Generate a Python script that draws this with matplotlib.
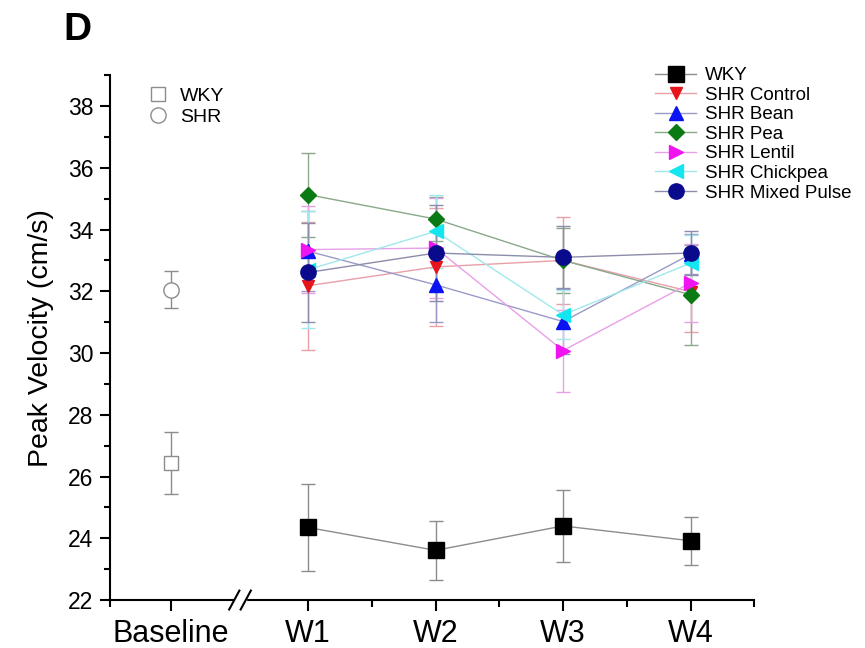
import matplotlib.pyplot as plt
import matplotlib.transforms as mtransforms
from matplotlib.lines import Line2D

plt.rcParams['font.family'] = ['Liberation Sans', 'DejaVu Sans']

# data
weeks = ['W1', 'W2', 'W3', 'W4']
week_pos = [1, 2, 3, 4]
baseline_pos = -0.076

baseline_wky = 26.45
baseline_wky_err = 1.0
baseline_shr = 32.05
baseline_shr_err = 0.6

series_names = ['WKY', 'SHR Control', 'SHR Bean', 'SHR Pea',
                'SHR Lentil', 'SHR Chickpea', 'SHR Mixed Pulse']
wky = [24.35, 23.61, 24.40, 23.92]
wky_err = [1.42, 0.95, 1.18, 0.78]
shr_control = [32.18, 32.79, 33.00, 31.99]
shr_control_err = [2.08, 1.90, 1.40, 1.30]
shr_bean = [33.30, 32.21, 31.02, 33.20]
shr_bean_err = [1.30, 1.20, 1.05, 0.65]
shr_pea = [35.13, 34.34, 33.00, 31.89]
shr_pea_err = [1.36, 0.70, 1.05, 1.62]
shr_lentil = [33.35, 33.40, 30.08, 32.27]
shr_lentil_err = [1.40, 1.62, 1.33, 1.25]
shr_chickpea = [32.70, 33.94, 31.24, 32.91]
shr_chickpea_err = [1.90, 1.19, 0.80, 0.92]
shr_mixed = [32.61, 33.24, 33.10, 33.24]
shr_mixed_err = [1.60, 1.55, 1.00, 0.70]

values = [wky, shr_control, shr_bean, shr_pea, shr_lentil, shr_chickpea, shr_mixed]
errors = [wky_err, shr_control_err, shr_bean_err, shr_pea_err,
          shr_lentil_err, shr_chickpea_err, shr_mixed_err]

markers = ['s', 'v', '^', 'D', '>', '<', 'o']
msizes = [11, 9, 10, 8.5, 10, 10, 11]
mcolors = ['#000000', '#e8141c', '#0a14f0', '#0a7a14', '#f014f0', '#14e6f0', '#0a0a8c']
lcolors = ['#8c8c8c', '#e8a0a8', '#9a9ac8', '#8aa88a', '#e8a0e8', '#a0e8ec', '#8c8cac']

fig = plt.figure(figsize=(8.65, 6.48), dpi=100)
ax = fig.add_axes([0.127, 0.074, 0.745, 0.81])

# baseline points
bl_wky = ax.errorbar([baseline_pos], [baseline_wky], yerr=[baseline_wky_err], fmt='s',
                     ms=10, mfc='white', mec='#8c8c8c', mew=1.0, ecolor='#8c8c8c',
                     elinewidth=1.0, capsize=5, capthick=1.0)
bl_shr = ax.errorbar([baseline_pos], [baseline_shr], yerr=[baseline_shr_err], fmt='o',
                     ms=11, mfc='white', mec='#8c8c8c', mew=1.0, ecolor='#8c8c8c',
                     elinewidth=1.0, capsize=5, capthick=1.0)

handles = []
for name, v, e, m, ms, mc, lc in zip(series_names, values, errors, markers,
                                     msizes, mcolors, lcolors):
    cont = ax.errorbar(week_pos, v, yerr=e, fmt=m + '-', ms=ms, mfc=mc, mec=mc,
                       color=lc, lw=1.0, ecolor=lc, elinewidth=1.0,
                       capsize=5, capthick=1.0, label=name)
    handles.append(cont[0])

ax.set_xlim(-0.555, 4.5)
ax.set_ylim(22, 39)
ax.set_xticks([baseline_pos] + week_pos)
ax.set_xticklabels(['Baseline'] + weeks, fontsize=22)
ax.set_xticks([-0.555, 1.5, 2.5, 3.5, 4.5], minor=True)
ax.set_yticks(range(22, 39, 2))
ax.set_yticks(range(23, 40, 2), minor=True)
ax.tick_params(axis='y', which='major', labelsize=16.5, length=7, width=1.5,
               direction='out', pad=5)
ax.tick_params(axis='y', which='minor', length=4, width=1.5, direction='out')
ax.tick_params(axis='x', which='major', length=8, width=1.5, direction='out', pad=6)
ax.tick_params(axis='x', which='minor', length=5, width=1.5, direction='out')
for s in ['top', 'right']:
    ax.spines[s].set_visible(False)
for s in ['left', 'bottom']:
    ax.spines[s].set_linewidth(1.5)
ax.set_ylabel('Peak Velocity (cm/s)', fontsize=20.5, labelpad=10)

# axis break on x
brk = 0.466
trans = mtransforms.blended_transform_factory(ax.transData, ax.transAxes)
ax.add_patch(plt.Rectangle((brk - 0.05, -0.01), 0.1, 0.02, transform=trans,
                           color='white', clip_on=False, zorder=5))
for dx in (-0.045, 0.045):
    ax.add_line(Line2D([brk + dx - 0.04, brk + dx + 0.04], [-0.018, 0.018],
                       transform=trans, color='black', lw=1.5, clip_on=False, zorder=6))

leg1 = ax.legend(handles, series_names, loc='upper left',
                 bbox_to_anchor=(655 / 865, 1 - 67 / 648), bbox_transform=fig.transFigure,
                 frameon=False, fontsize=13.5, labelspacing=0.13, handlelength=2.2,
                 handletextpad=0.45, borderpad=0, borderaxespad=0)
ax.add_artist(leg1)
ax.legend([bl_wky[0], bl_shr[0]], ['WKY', 'SHR'], loc='upper left',
          bbox_to_anchor=(148 / 865, 1 - 87 / 648), bbox_transform=fig.transFigure,
          frameon=False, fontsize=14, labelspacing=0.18, handlelength=1.0,
          handletextpad=0.65, borderpad=0, borderaxespad=0)

fig.text(77 / 865, 1 - 30 / 648, 'D', fontsize=28, fontweight='bold',
         ha='center', va='center')

fig.savefig('out.png', dpi=100)
